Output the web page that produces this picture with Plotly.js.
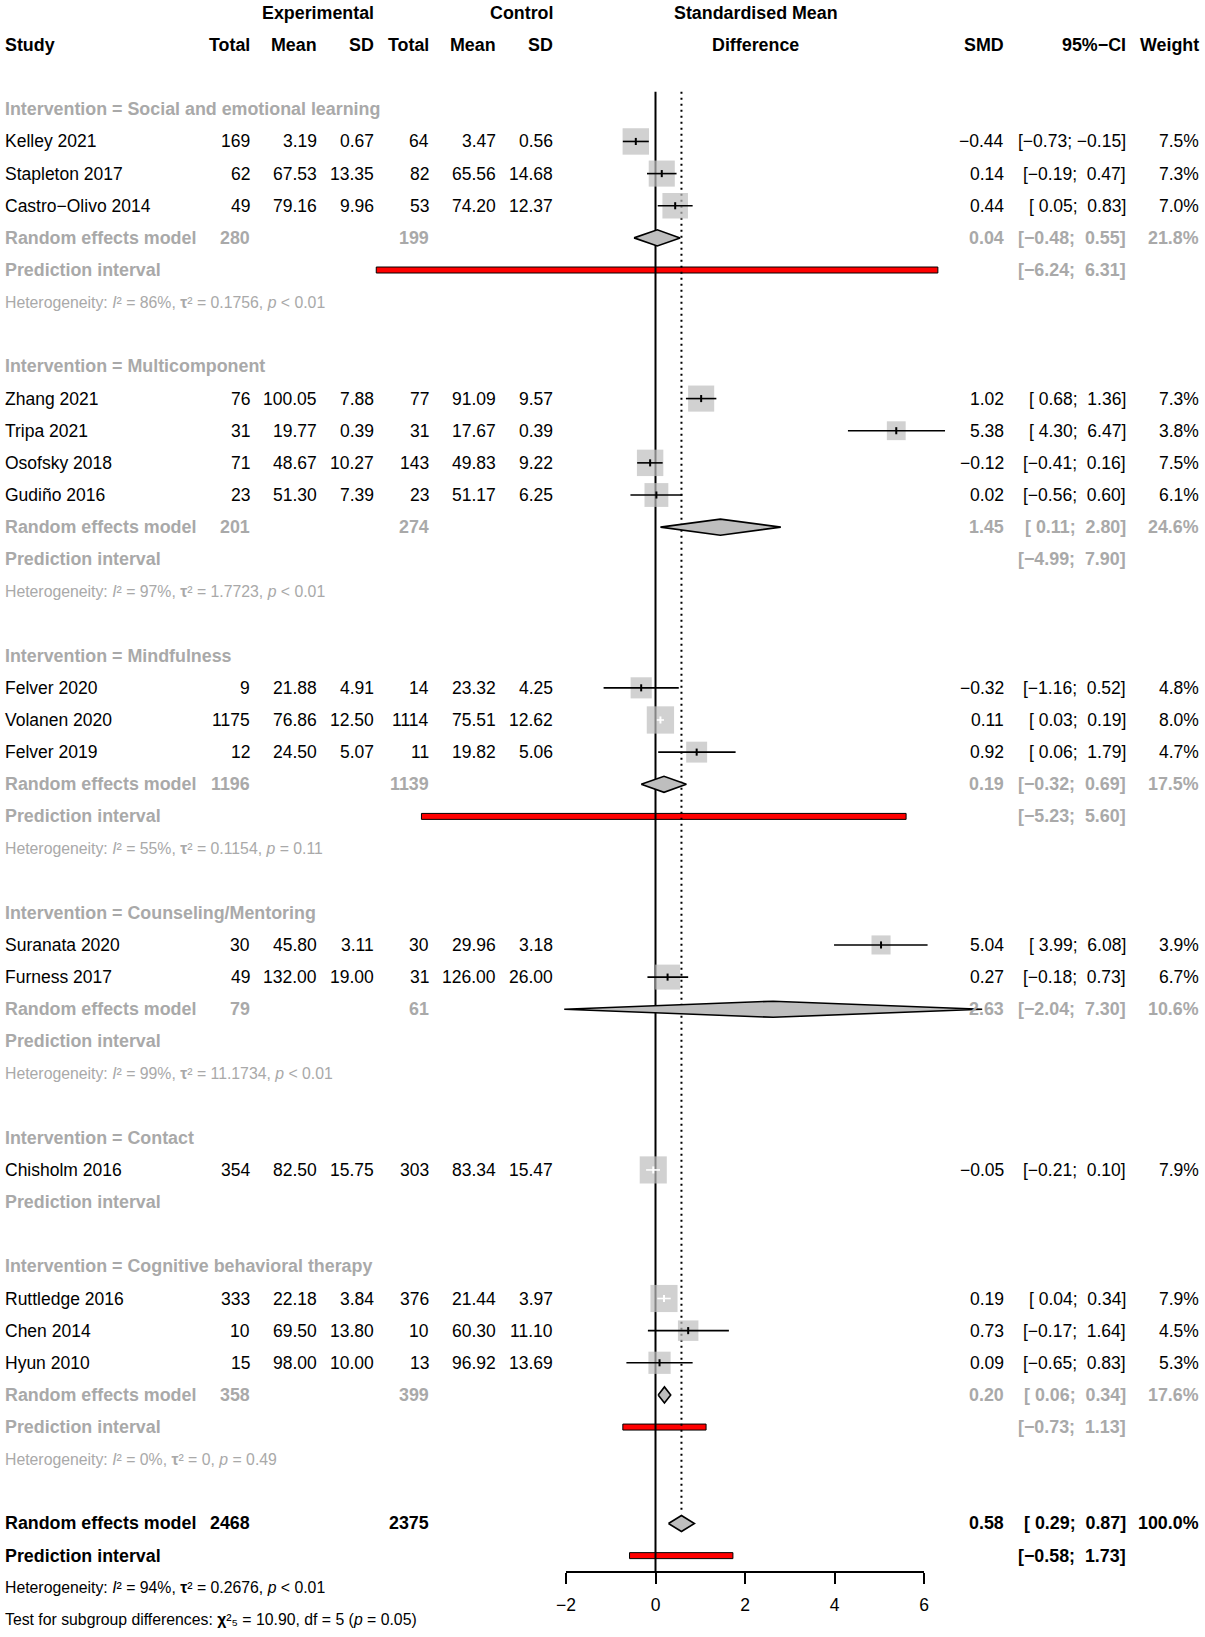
<!DOCTYPE html>
<html>
<head>
<meta charset="utf-8">
<script src="https://cdn.plot.ly/plotly-3.0.1.min.js"></script>
<style>html,body{margin:0;padding:0;background:#ffffff;}</style>
</head>
<body>
<div id="chart" style="width:1205px;height:1637px;"></div>
<script>
// ---------------- DATA ----------------
const groupLabels = ["Social and emotional learning", "Multicomponent", "Mindfulness",
  "Counseling/Mentoring", "Contact", "Cognitive behavioral therapy"];

const study = ["Kelley 2021", "Stapleton 2017", "Castro\u2212Olivo 2014",
  "Zhang 2021", "Tripa 2021", "Osofsky 2018", "Gudi\u00f1o 2016",
  "Felver 2020", "Volanen 2020", "Felver 2019",
  "Suranata 2020", "Furness 2017",
  "Chisholm 2016",
  "Ruttledge 2016", "Chen 2014", "Hyun 2010"];
const studyGroup = [0, 0, 0, 1, 1, 1, 1, 2, 2, 2, 3, 3, 4, 5, 5, 5];

const expTotal = [169, 62, 49, 76, 31, 71, 23, 9, 1175, 12, 30, 49, 354, 333, 10, 15];
const expMean = [3.19, 67.53, 79.16, 100.05, 19.77, 48.67, 51.30, 21.88, 76.86, 24.50, 45.80, 132.00, 82.50, 22.18, 69.50, 98.00];
const expSD = [0.67, 13.35, 9.96, 7.88, 0.39, 10.27, 7.39, 4.91, 12.50, 5.07, 3.11, 19.00, 15.75, 3.84, 13.80, 10.00];
const ctrlTotal = [64, 82, 53, 77, 31, 143, 23, 14, 1114, 11, 30, 31, 303, 376, 10, 13];
const ctrlMean = [3.47, 65.56, 74.20, 91.09, 17.67, 49.83, 51.17, 23.32, 75.51, 19.82, 29.96, 126.00, 83.34, 21.44, 60.30, 96.92];
const ctrlSD = [0.56, 14.68, 12.37, 9.57, 0.39, 9.22, 6.25, 4.25, 12.62, 5.06, 3.18, 26.00, 15.47, 3.97, 11.10, 13.69];
const smd = [-0.44, 0.14, 0.44, 1.02, 5.38, -0.12, 0.02, -0.32, 0.11, 0.92, 5.04, 0.27, -0.05, 0.19, 0.73, 0.09];
const ciLow = [-0.73, -0.19, 0.05, 0.68, 4.30, -0.41, -0.56, -1.16, 0.03, 0.06, 3.99, -0.18, -0.21, 0.04, -0.17, -0.65];
const ciHigh = [-0.15, 0.47, 0.83, 1.36, 6.47, 0.16, 0.60, 0.52, 0.19, 1.79, 6.08, 0.73, 0.10, 0.34, 1.64, 0.83];
const weight = [7.5, 7.3, 7.0, 7.3, 3.8, 7.5, 6.1, 4.8, 8.0, 4.7, 3.9, 6.7, 7.9, 7.9, 4.5, 5.3];

// subgroup random effects results (null = not reported)
const subExpTotal = [280, 201, 1196, 79, null, 358];
const subCtrlTotal = [199, 274, 1139, 61, null, 399];
const subSmd = [0.04, 1.45, 0.19, 2.63, null, 0.20];
const subLow = [-0.48, 0.11, -0.32, -2.04, null, 0.06];
const subHigh = [0.55, 2.80, 0.69, 7.30, null, 0.34];
const subWeight = [21.8, 24.6, 17.5, 10.6, null, 17.6];
const subPiLow = [-6.24, -4.99, -5.23, null, null, -0.73];
const subPiHigh = [6.31, 7.90, 5.60, null, null, 1.13];
const subPiDrawn = [true, false, true, false, false, true];
const subI2 = [86, 97, 55, 99, null, 0];
const subTau2 = ["0.1756", "1.7723", "0.1154", "11.1734", null, "0"];
const subP = ["&lt; 0.01", "&lt; 0.01", "= 0.11", "&lt; 0.01", null, "= 0.49"];

// overall
const allExpTotal = 2468, allCtrlTotal = 2375;
const allSmd = 0.58, allLow = 0.29, allHigh = 0.87, allWeight = 100.0;
const allPiLow = -0.58, allPiHigh = 1.73;
const allI2 = 94, allTau2 = "0.2676", allP = "&lt; 0.01";
const testChi2 = "10.90", testDf = 5, testP = "0.05";

const axisTicks = [-2, 0, 2, 4, 6];
const axisTickLabels = ["\u22122", "0", "2", "4", "6"];

// ---------------- STYLE / GEOMETRY ----------------
const FONT = "Liberation Sans, Arial, Helvetica, sans-serif";
const BLACK = "#000000", GRAY = "#A9A9A9", BOXGRAY = "#BEBEBE";
const FS = 17.5, FSB = 17.85, FSH = 15.8;
const W = 1205, H = 1637;
const X0 = 655.5, PXU = 44.75;      // pixel of SMD 0, pixels per SMD unit
const ROW0 = 12.9, ROWH = 32.14;     // pixel of row 0, pixels per row
const C = {study: 5, eTot: 249.5, eMean: 317, eSD: 374, cTot: 428.5, cMean: 495.5, cSD: 553,
           fp: 755.5, smd: 1003.5, ci: 1125.5, w: 1199};

const SUP2 = "\u00b2";
const SUBS = ["\u2080", "\u2081", "\u2082", "\u2083", "\u2084", "\u2085", "\u2086", "\u2087", "\u2088", "\u2089"];
const fmt = (v, d) => (v < 0 ? "\u2212" : "") + Math.abs(v).toFixed(d);
const pad = (v) => (v < 0 ? "\u2212" : " ") + Math.abs(v).toFixed(2);
const ciTxt = (lo, hi) => "[" + pad(lo) + "; " + pad(hi) + "]";
const wTxt = (w) => w.toFixed(1) + "%";
const B = (s) => "<b>" + s + "</b>";
const hetTxt = (i2, tau2, p) => "Heterogeneity: <i>I</i>" + SUP2 + " = " + i2 + "%, <b>\u03c4</b>" + SUP2 +
  " = " + tau2 + ", <i>p</i> " + p;

const ann = [];
function T(text, xpx, row, anchor, color, size) {
  const bold = text.indexOf("<b>") === 0;
  ann.push({text: text, x: xpx / W, xref: "paper", y: row, yref: "y",
    xanchor: anchor, yanchor: "middle", showarrow: false, borderpad: 0, borderwidth: 0,
    font: {family: FONT, size: size || (bold ? FSB : FS), color: color || BLACK}});
}

// ---------------- HEADER ----------------
T(B("Experimental"), C.eSD, 0, "right");
T(B("Control"), C.cSD, 0, "right");
T(B("Standardised Mean"), C.fp, 0, "center");
T(B("Study"), C.study, 1, "left");
T(B("Total"), C.eTot, 1, "right");
T(B("Mean"), C.eMean, 1, "right");
T(B("SD"), C.eSD, 1, "right");
T(B("Total"), C.cTot, 1, "right");
T(B("Mean"), C.cMean, 1, "right");
T(B("SD"), C.cSD, 1, "right");
T(B("Difference"), C.fp, 1, "center");
T(B("SMD"), C.smd, 1, "right");
T(B("95%\u2212CI"), C.ci, 1, "right");
T(B("Weight"), C.w, 1, "right");

// ---------------- ROWS ----------------
const studyRow = [], remRow = [], piRow = [];
let r = 3;
groupLabels.forEach((g, gi) => {
  T(B("Intervention = " + g), C.study, r, "left", GRAY); r++;
  study.forEach((s, i) => {
    if (studyGroup[i] !== gi) return;
    studyRow[i] = r;
    T(s, C.study, r, "left");
    T(String(expTotal[i]), C.eTot, r, "right");
    T(expMean[i].toFixed(2), C.eMean, r, "right");
    T(expSD[i].toFixed(2), C.eSD, r, "right");
    T(String(ctrlTotal[i]), C.cTot, r, "right");
    T(ctrlMean[i].toFixed(2), C.cMean, r, "right");
    T(ctrlSD[i].toFixed(2), C.cSD, r, "right");
    T(fmt(smd[i], 2), C.smd, r, "right");
    T(ciTxt(ciLow[i], ciHigh[i]), C.ci, r, "right");
    T(wTxt(weight[i]), C.w, r, "right");
    r++;
  });
  if (subSmd[gi] !== null) {
    remRow[gi] = r;
    T(B("Random effects model"), C.study, r, "left", GRAY);
    T(B(String(subExpTotal[gi])), C.eTot, r, "right", GRAY);
    T(B(String(subCtrlTotal[gi])), C.cTot, r, "right", GRAY);
    T(B(fmt(subSmd[gi], 2)), C.smd, r, "right", GRAY);
    T(B(ciTxt(subLow[gi], subHigh[gi])), C.ci, r, "right", GRAY);
    T(B(wTxt(subWeight[gi])), C.w, r, "right", GRAY);
    r++;
  }
  piRow[gi] = r;
  T(B("Prediction interval"), C.study, r, "left", GRAY);
  if (subPiLow[gi] !== null) T(B(ciTxt(subPiLow[gi], subPiHigh[gi])), C.ci, r, "right", GRAY);
  r++;
  if (subI2[gi] !== null) {
    T(hetTxt(subI2[gi], subTau2[gi], subP[gi]), C.study, r, "left", GRAY, FSH);
    r++;
  }
  r++;
});
const allRow = r, allPiRow = r + 1, hetRow = r + 2, testRow = r + 3;
T(B("Random effects model"), C.study, allRow, "left");
T(B(String(allExpTotal)), C.eTot, allRow, "right");
T(B(String(allCtrlTotal)), C.cTot, allRow, "right");
T(B(fmt(allSmd, 2)), C.smd, allRow, "right");
T(B(ciTxt(allLow, allHigh)), C.ci, allRow, "right");
T(B(wTxt(allWeight)), C.w, allRow, "right");
T(B("Prediction interval"), C.study, allPiRow, "left");
T(B(ciTxt(allPiLow, allPiHigh)), C.ci, allPiRow, "right");
T(hetTxt(allI2, allTau2, allP), C.study, hetRow, "left", BLACK, FSH);
T("Test for subgroup differences: <b>\u03c7</b>" + SUP2 + SUBS[testDf] + " = " + testChi2 +
  ", df = " + testDf + " (<i>p</i> = " + testP + ")", C.study, testRow, "left", BLACK, FSH);

const axisRow = allPiRow + 0.5;
const topRow = 2.45;

// ---------------- TRACES ----------------
const traces = [];
const base = {type: "scatter", hoverinfo: "skip", showlegend: false, xaxis: "x", yaxis: "y"};

// prediction interval bars (red)
const piH = 0.093;
function piBar(lo, hi, row) {
  traces.push(Object.assign({}, base, {mode: "lines", fill: "toself", fillcolor: "#FF0000",
    x: [lo, hi, hi, lo, lo], y: [row - piH, row - piH, row + piH, row + piH, row - piH],
    line: {color: BLACK, width: 1}}));
}
groupLabels.forEach((g, gi) => { if (subPiDrawn[gi]) piBar(subPiLow[gi], subPiHigh[gi], piRow[gi]); });
piBar(allPiLow, allPiHigh, allPiRow);

// reference line at 0 and dotted line at overall estimate
traces.push(Object.assign({}, base, {mode: "lines", x: [0, 0], y: [topRow, axisRow],
  line: {color: BLACK, width: 2}}));
traces.push(Object.assign({}, base, {mode: "lines", x: [allSmd, allSmd], y: [topRow, allRow - 0.33],
  line: {color: BLACK, width: 2, dash: "2px,4px"}}));

// squares
const sizes = weight.map(w => 9.65 * Math.sqrt(w));
traces.push(Object.assign({}, base, {mode: "markers", x: smd, y: studyRow,
  marker: {symbol: "square", size: sizes, color: BOXGRAY, line: {width: 0}}}));

// CI lines + estimate ticks (white when the interval lies inside the box)
const lx = {k: [], w: []}, ly = {k: [], w: []}, tx = {k: [], w: []}, ty = {k: [], w: []};
smd.forEach((v, i) => {
  const inside = (ciHigh[i] - ciLow[i]) * PXU < sizes[i] - 3;
  const c = inside ? "w" : "k";
  lx[c].push(ciLow[i], ciHigh[i], null); ly[c].push(studyRow[i], studyRow[i], null);
  tx[c].push(v, v, null); ty[c].push(studyRow[i] - 0.11, studyRow[i] + 0.11, null);
});
traces.push(Object.assign({}, base, {mode: "lines", x: lx.k, y: ly.k, line: {color: BLACK, width: 1.6}}));
traces.push(Object.assign({}, base, {mode: "lines", x: tx.k, y: ty.k, line: {color: BLACK, width: 2}}));
traces.push(Object.assign({}, base, {mode: "lines", x: lx.w, y: ly.w, line: {color: "#FFFFFF", width: 1.6}}));
traces.push(Object.assign({}, base, {mode: "lines", x: tx.w, y: ty.w, line: {color: "#FFFFFF", width: 2}}));

// diamonds
const dH = 0.25;
function diamond(lo, est, hi, row) {
  traces.push(Object.assign({}, base, {mode: "lines", fill: "toself", fillcolor: BOXGRAY,
    x: [lo, est, hi, est, lo], y: [row, row - dH, row, row + dH, row],
    line: {color: BLACK, width: 1.6}}));
}
groupLabels.forEach((g, gi) => { if (subSmd[gi] !== null) diamond(subLow[gi], subSmd[gi], subHigh[gi], remRow[gi]); });
diamond(allLow, allSmd, allHigh, allRow);

// carrier trace for the visible SMD axis
traces.push({type: "scatter", mode: "markers", x: axisTicks, y: axisTicks.map(() => axisRow),
  xaxis: "x2", yaxis: "y", marker: {opacity: 0, size: 1}, hoverinfo: "skip", showlegend: false});

// ---------------- LAYOUT ----------------
const tMin = axisTicks[0], tMax = axisTicks[axisTicks.length - 1];
const layout = {
  width: W, height: H,
  margin: {l: 0, r: 0, t: 0, b: 0, pad: 0},
  paper_bgcolor: "#FFFFFF", plot_bgcolor: "rgba(0,0,0,0)",
  showlegend: false,
  xaxis: {domain: [0, 1], range: [-X0 / PXU, (W - X0) / PXU], visible: false, fixedrange: true},
  yaxis: {domain: [0, 1], range: [(H - ROW0) / ROWH, -ROW0 / ROWH], visible: false, fixedrange: true},
  xaxis2: {domain: [(X0 + tMin * PXU) / W, (X0 + tMax * PXU) / W], range: [tMin, tMax],
    anchor: "free", position: 1 - (ROW0 + axisRow * ROWH) / H,
    showline: true, linewidth: 2, linecolor: BLACK, ticks: "outside", ticklen: 11, tickwidth: 2,
    tickcolor: BLACK, tickmode: "array", tickvals: axisTicks, ticktext: axisTickLabels,
    showgrid: false, zeroline: false, fixedrange: true, ticklabelstandoff: 6,
    tickfont: {family: FONT, size: FS, color: BLACK}},
  annotations: ann
};

Plotly.newPlot("chart", traces, layout, {staticPlot: true, displayModeBar: false});
</script>
</body>
</html>
